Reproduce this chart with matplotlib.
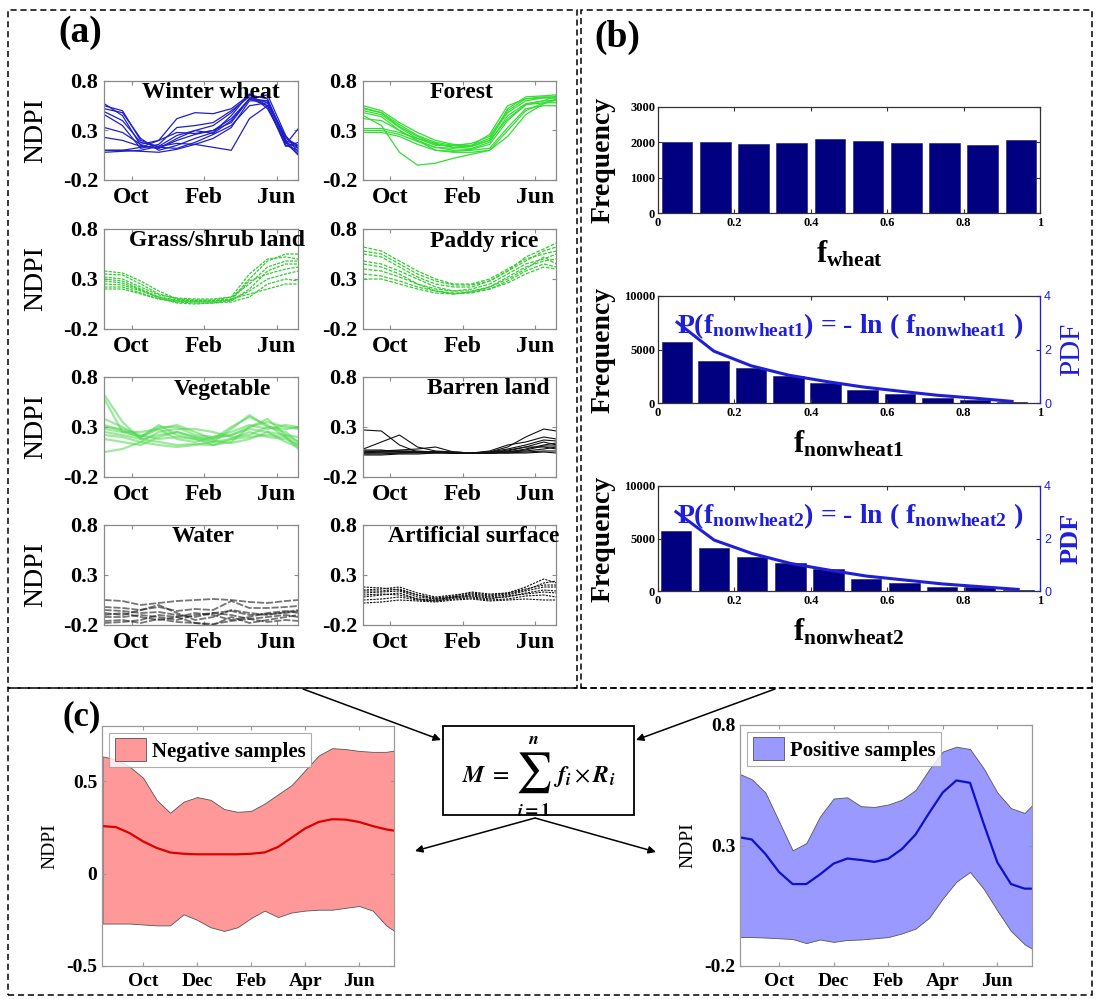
import matplotlib
matplotlib.use('Agg')
import matplotlib.pyplot as plt
from matplotlib.patches import Rectangle, FancyArrowPatch

# ---------------- DATA ----------------
A_MONTHS = [0.5, 1.5, 2.5, 3.5, 4.5, 5.5, 6.5, 7.5, 8.5, 9.5, 10.5, 11.2]
A_TICKS = [2, 6, 10]
A_TICKLABELS = ['Oct', 'Feb', 'Jun']
NDPI_TICKS_A = [-0.2, 0.3, 0.8]

WHEAT = [
    [0.57, 0.45, 0.15, 0.12, 0.22, 0.30, 0.35, 0.48, 0.66, 0.55, 0.15, 0.10],
    [0.52, 0.48, 0.22, 0.10, 0.15, 0.22, 0.28, 0.45, 0.67, 0.52, 0.18, 0.12],
    [0.49, 0.40, 0.18, 0.14, 0.25, 0.30, 0.27, 0.40, 0.62, 0.60, 0.22, 0.15],
    [0.46, 0.35, 0.12, 0.16, 0.33, 0.35, 0.38, 0.50, 0.64, 0.58, 0.20, 0.06],
    [0.33, 0.28, 0.16, 0.20, 0.42, 0.48, 0.47, 0.52, 0.66, 0.62, 0.20, 0.14],
    [0.23, 0.20, 0.14, 0.12, 0.20, 0.26, 0.30, 0.38, 0.62, 0.66, 0.25, 0.08],
    [0.10, 0.10, 0.09, 0.08, 0.11, 0.16, 0.22, 0.33, 0.60, 0.60, 0.18, 0.05],
    [0.08, 0.09, 0.10, 0.14, 0.17, 0.16, 0.13, 0.10, 0.42, 0.55, 0.16, 0.32],
    [0.10, 0.10, 0.13, 0.20, 0.28, 0.27, 0.30, 0.42, 0.62, 0.55, 0.14, 0.18],
    [0.55, 0.50, 0.20, 0.13, 0.12, 0.18, 0.26, 0.35, 0.55, 0.58, 0.24, 0.12],
]
FOREST = [
    [0.55, 0.50, 0.38, 0.28, 0.20, 0.16, 0.15, 0.22, 0.48, 0.60, 0.63, 0.63],
    [0.52, 0.48, 0.36, 0.25, 0.18, 0.15, 0.14, 0.20, 0.52, 0.64, 0.65, 0.66],
    [0.48, 0.44, 0.30, 0.20, 0.13, 0.10, 0.11, 0.16, 0.40, 0.56, 0.60, 0.60],
    [0.45, 0.35, 0.08, -0.05, -0.03, 0.02, 0.06, 0.10, 0.30, 0.50, 0.58, 0.62],
    [0.32, 0.32, 0.28, 0.22, 0.17, 0.13, 0.15, 0.26, 0.55, 0.62, 0.63, 0.63],
    [0.30, 0.30, 0.26, 0.19, 0.13, 0.12, 0.14, 0.20, 0.42, 0.56, 0.58, 0.58],
    [0.28, 0.28, 0.24, 0.16, 0.10, 0.09, 0.10, 0.12, 0.33, 0.52, 0.55, 0.55],
    [0.50, 0.46, 0.33, 0.22, 0.15, 0.15, 0.17, 0.24, 0.50, 0.62, 0.64, 0.64],
    [0.42, 0.40, 0.30, 0.20, 0.10, 0.08, 0.08, 0.10, 0.24, 0.46, 0.57, 0.61],
    [0.53, 0.48, 0.34, 0.24, 0.16, 0.13, 0.12, 0.18, 0.45, 0.57, 0.60, 0.65],
]
GRASS = [
    [0.38, 0.36, 0.28, 0.18, 0.10, 0.08, 0.08, 0.10, 0.30, 0.48, 0.55, 0.55],
    [0.35, 0.34, 0.25, 0.15, 0.10, 0.09, 0.09, 0.12, 0.35, 0.50, 0.52, 0.50],
    [0.30, 0.28, 0.20, 0.12, 0.08, 0.07, 0.07, 0.08, 0.20, 0.38, 0.45, 0.45],
    [0.25, 0.24, 0.18, 0.12, 0.09, 0.08, 0.08, 0.09, 0.18, 0.30, 0.35, 0.38],
    [0.22, 0.22, 0.16, 0.10, 0.07, 0.06, 0.06, 0.07, 0.12, 0.25, 0.30, 0.28],
    [0.32, 0.30, 0.22, 0.14, 0.11, 0.10, 0.10, 0.12, 0.25, 0.42, 0.48, 0.48],
    [0.28, 0.26, 0.19, 0.11, 0.06, 0.05, 0.06, 0.09, 0.28, 0.35, 0.40, 0.42],
    [0.20, 0.20, 0.15, 0.10, 0.08, 0.08, 0.08, 0.10, 0.15, 0.20, 0.25, 0.25],
]
PADDY = [
    [0.62, 0.58, 0.48, 0.38, 0.30, 0.25, 0.25, 0.30, 0.40, 0.50, 0.55, 0.58],
    [0.55, 0.52, 0.42, 0.32, 0.25, 0.22, 0.22, 0.28, 0.38, 0.48, 0.58, 0.62],
    [0.48, 0.45, 0.38, 0.30, 0.22, 0.18, 0.20, 0.25, 0.35, 0.45, 0.50, 0.55],
    [0.45, 0.42, 0.35, 0.25, 0.18, 0.15, 0.17, 0.22, 0.32, 0.42, 0.48, 0.50],
    [0.40, 0.38, 0.32, 0.25, 0.20, 0.18, 0.18, 0.22, 0.30, 0.40, 0.52, 0.45],
    [0.35, 0.33, 0.28, 0.22, 0.18, 0.16, 0.16, 0.20, 0.28, 0.38, 0.45, 0.42],
    [0.30, 0.30, 0.25, 0.20, 0.16, 0.15, 0.17, 0.20, 0.26, 0.35, 0.42, 0.40],
    [0.58, 0.55, 0.45, 0.35, 0.28, 0.24, 0.24, 0.28, 0.38, 0.52, 0.60, 0.66],
]
VEGETABLE = [
    [0.62, 0.35, 0.18, 0.22, 0.25, 0.20, 0.18, 0.22, 0.28, 0.25, 0.15, 0.10],
    [0.58, 0.25, 0.20, 0.28, 0.32, 0.25, 0.18, 0.30, 0.40, 0.32, 0.20, 0.12],
    [0.38, 0.30, 0.20, 0.30, 0.30, 0.22, 0.20, 0.22, 0.30, 0.35, 0.30, 0.28],
    [0.30, 0.28, 0.22, 0.18, 0.20, 0.18, 0.15, 0.28, 0.42, 0.30, 0.25, 0.15],
    [0.22, 0.20, 0.15, 0.25, 0.28, 0.28, 0.25, 0.20, 0.22, 0.30, 0.28, 0.30],
    [0.05, 0.08, 0.15, 0.12, 0.10, 0.12, 0.15, 0.18, 0.20, 0.22, 0.20, 0.08],
    [0.25, 0.22, 0.18, 0.15, 0.12, 0.13, 0.12, 0.18, 0.25, 0.20, 0.18, 0.12],
    [0.32, 0.26, 0.20, 0.32, 0.22, 0.18, 0.12, 0.15, 0.30, 0.38, 0.22, 0.15],
    [0.18, 0.15, 0.12, 0.20, 0.25, 0.20, 0.16, 0.14, 0.18, 0.25, 0.22, 0.20],
    [0.28, 0.25, 0.25, 0.28, 0.18, 0.15, 0.20, 0.25, 0.32, 0.28, 0.32, 0.30],
]
BARREN = [
    [0.27, 0.26, 0.12, 0.05, 0.05, 0.04, 0.04, 0.05, 0.10, 0.20, 0.28, 0.26],
    [0.08, 0.15, 0.22, 0.10, 0.06, 0.05, 0.04, 0.06, 0.12, 0.15, 0.20, 0.18],
    [0.05, 0.06, 0.07, 0.08, 0.10, 0.05, 0.04, 0.05, 0.06, 0.10, 0.15, 0.12],
    [0.04, 0.05, 0.05, 0.05, 0.05, 0.04, 0.04, 0.04, 0.05, 0.08, 0.12, 0.14],
    [0.03, 0.03, 0.04, 0.04, 0.04, 0.04, 0.04, 0.04, 0.05, 0.06, 0.08, 0.10],
    [0.06, 0.06, 0.06, 0.05, 0.05, 0.04, 0.04, 0.04, 0.04, 0.05, 0.06, 0.06],
    [0.02, 0.02, 0.03, 0.03, 0.04, 0.04, 0.04, 0.04, 0.04, 0.04, 0.05, 0.04],
    [0.05, 0.05, 0.06, 0.06, 0.05, 0.05, 0.04, 0.05, 0.08, 0.12, 0.17, 0.16],
    [0.07, 0.07, 0.05, 0.05, 0.05, 0.04, 0.04, 0.04, 0.07, 0.10, 0.10, 0.08],
    [0.04, 0.04, 0.04, 0.05, 0.05, 0.04, 0.04, 0.04, 0.05, 0.07, 0.11, 0.11],
]
WATER = [
    [0.05, 0.04, 0.00, 0.02, 0.04, 0.05, 0.06, 0.05, 0.03, 0.02, 0.04, 0.05],
    [-0.02, -0.03, -0.05, -0.02, -0.06, -0.04, -0.05, 0.04, -0.03, -0.03, -0.02, -0.01],
    [-0.08, -0.10, -0.05, 0.00, -0.08, -0.15, -0.12, -0.05, -0.08, -0.10, -0.07, -0.05],
    [-0.12, -0.12, -0.10, -0.12, -0.15, -0.10, -0.08, -0.10, -0.14, -0.12, -0.10, -0.12],
    [-0.16, -0.15, -0.18, -0.14, -0.17, -0.18, -0.19, -0.16, -0.14, -0.17, -0.15, -0.16],
    [-0.05, -0.06, -0.08, -0.07, -0.10, -0.12, -0.08, -0.06, -0.10, -0.09, -0.08, -0.06],
    [-0.18, -0.17, -0.15, -0.10, -0.12, -0.18, -0.20, -0.12, -0.18, -0.15, -0.12, -0.10],
    [-0.10, -0.08, -0.12, -0.15, -0.12, -0.08, -0.10, -0.15, -0.12, -0.08, -0.06, -0.08],
]
ARTIFICIAL = [
    [0.15, 0.16, 0.18, 0.12, 0.08, 0.10, 0.12, 0.10, 0.12, 0.18, 0.26, 0.22],
    [0.12, 0.13, 0.14, 0.08, 0.06, 0.08, 0.10, 0.08, 0.10, 0.14, 0.18, 0.18],
    [0.08, 0.10, 0.12, 0.06, 0.04, 0.07, 0.09, 0.07, 0.08, 0.12, 0.15, 0.14],
    [0.05, 0.06, 0.08, 0.05, 0.04, 0.06, 0.07, 0.05, 0.06, 0.09, 0.10, 0.08],
    [0.18, 0.17, 0.15, 0.10, 0.07, 0.09, 0.13, 0.11, 0.12, 0.16, 0.20, 0.20],
    [0.02, 0.03, 0.05, 0.04, 0.03, 0.05, 0.06, 0.04, 0.05, 0.06, 0.05, 0.05],
    [0.10, 0.11, 0.10, 0.06, 0.05, 0.08, 0.08, 0.06, 0.09, 0.11, 0.13, 0.12],
    [0.14, 0.14, 0.16, 0.10, 0.06, 0.08, 0.11, 0.09, 0.11, 0.15, 0.22, 0.24],
]
CLASS_NAMES = ['Winter wheat', 'Forest', 'Grass/shrub land', 'Paddy rice',
               'Vegetable', 'Barren land', 'Water', 'Artificial surface']

# panel (b)
F_TICKS = [0, 0.2, 0.4, 0.6, 0.8, 1]
F_TICKLABELS = ['0', '0.2', '0.4', '0.6', '0.8', '1']
WHEAT_BINS = [0.05, 0.15, 0.25, 0.35, 0.45, 0.55, 0.65, 0.75, 0.85, 0.95]
WHEAT_FREQ = [2015, 1997, 1940, 1978, 2090, 2025, 1978, 1978, 1920, 2080]
NW1_BINS = [0.050, 0.146, 0.244, 0.342, 0.438, 0.536, 0.634, 0.731, 0.830, 0.927]
NW1_FREQ = [5690, 3940, 3280, 2560, 1910, 1250, 875, 470, 310, 94]
NW1_PDF = [3.02, 1.94, 1.39, 1.04, 0.81, 0.60, 0.44, 0.29, 0.18, 0.06]
NW2_BINS = [0.047, 0.147, 0.246, 0.347, 0.446, 0.545, 0.645, 0.744, 0.843, 0.943]
NW2_FREQ = [5746, 4127, 3270, 2700, 2063, 1175, 794, 413, 350, 95]
NW2_PDF = [3.02, 1.94, 1.43, 1.05, 0.80, 0.57, 0.42, 0.27, 0.165, 0.06]

# panel (c)
C_MONTHS = [0.5, 1.0, 1.5, 2.0, 2.5, 3.0, 3.5, 4.0, 4.5, 5.0, 5.5, 6.0,
            6.5, 7.0, 7.5, 8.0, 8.5, 9.0, 9.5, 10.0, 10.5, 11.0, 11.3]
C_TICKS = [2, 4, 6, 8, 10]
C_TICKLABELS = ['Oct', 'Dec', 'Feb', 'Apr', 'Jun']
NEG_UPPER = [0.635, 0.62, 0.58, 0.52, 0.40, 0.33, 0.39, 0.415, 0.40, 0.35, 0.335, 0.34,
             0.38, 0.43, 0.48, 0.56, 0.64, 0.68, 0.675, 0.665, 0.66, 0.66, 0.667]
NEG_LOWER = [-0.27, -0.27, -0.27, -0.275, -0.28, -0.28, -0.22, -0.25, -0.29, -0.31, -0.29, -0.24,
             -0.20, -0.235, -0.21, -0.20, -0.195, -0.195, -0.185, -0.175, -0.20, -0.28, -0.31]
NEG_MEAN = [0.258, 0.252, 0.22, 0.175, 0.14, 0.115, 0.108, 0.105, 0.105, 0.105, 0.105, 0.108,
            0.115, 0.145, 0.195, 0.245, 0.28, 0.295, 0.293, 0.28, 0.258, 0.24, 0.233]
POS_UPPER = [0.60, 0.575, 0.52, 0.40, 0.28, 0.31, 0.42, 0.495, 0.50, 0.463, 0.46, 0.47,
             0.49, 0.53, 0.615, 0.69, 0.71, 0.70, 0.62, 0.52, 0.455, 0.435, 0.47]
POS_LOWER = [-0.08, -0.08, -0.082, -0.085, -0.088, -0.105, -0.09, -0.10, -0.092, -0.09, -0.085, -0.08,
             -0.065, -0.045, 0.0, 0.08, 0.15, 0.19, 0.12, 0.03, -0.055, -0.11, -0.13]
POS_MEAN = [0.335, 0.325, 0.265, 0.19, 0.14, 0.14, 0.18, 0.225, 0.246, 0.24, 0.232, 0.245,
            0.285, 0.345, 0.435, 0.52, 0.57, 0.56, 0.39, 0.23, 0.14, 0.121, 0.121]

# ---------------- FIGURE ----------------
W, H = 1097, 999
plt.rcParams['font.family'] = ['Liberation Serif', 'DejaVu Serif']
plt.rcParams['mathtext.fontset'] = 'custom'
plt.rcParams['mathtext.rm'] = 'Liberation Serif'
plt.rcParams['mathtext.bf'] = 'Liberation Serif:bold'
plt.rcParams['mathtext.it'] = 'Liberation Serif:italic'

fig = plt.figure(figsize=(W / 100, H / 100), dpi=100)


def fx(x):
    return x / W


def fy(y):
    return 1 - y / H


def ax_px(l, t, r, b):
    return fig.add_axes([l / W, 1 - b / H, (r - l) / W, (b - t) / H])


GRAY = '#8a8a8a'


def style_box(ax, color=GRAY):
    for s in ax.spines.values():
        s.set_color(color)
        s.set_linewidth(0.9)
    ax.tick_params(direction='in', top=True, right=True, color=color, length=3)


# ---------- panel (a) ----------
a_boxes = [(104, 81, 298, 180), (363, 81, 556, 180),
           (104, 229, 298, 329), (363, 229, 556, 329),
           (104, 377, 298, 477), (363, 377, 556, 477),
           (104, 525, 298, 625), (363, 525, 556, 625)]
a_title_x = [0.55, 0.51, 0.58, 0.63, 0.61, 0.65, 0.51, 0.575]
a_data = [WHEAT, FOREST, GRASS, PADDY, VEGETABLE, BARREN, WATER, ARTIFICIAL]
a_styles = [
    dict(color='#1f1fc8', lw=0.9, ls='-', alpha=1.0),
    dict(color='#33dd33', lw=0.9, ls='-', alpha=1.0),
    dict(color='#33cc33', lw=0.9, ls=(0, (2.5, 1)), alpha=1.0),
    dict(color='#33cc33', lw=0.9, ls=(0, (3, 1.2)), alpha=1.0),
    dict(color='#4fd84f', lw=1.6, ls='-', alpha=0.55),
    dict(color='#111111', lw=0.8, ls='-', alpha=1.0),
    dict(color='#1a1a1a', lw=1.3, ls=(0, (4, 1)), alpha=0.6),
    dict(color='#111111', lw=0.8, ls=(0, (2, 1)), alpha=1.0),
]
for i, (box, curves, st) in enumerate(zip(a_boxes, a_data, a_styles)):
    ax = ax_px(*box)
    for c in curves:
        ax.plot(A_MONTHS, c, color=st['color'], lw=st['lw'], ls=st['ls'], alpha=st['alpha'])
    ax.set_xlim(0.48, 11.18)
    ax.set_ylim(-0.2, 0.8)
    ax.set_xticks(A_TICKS)
    ax.set_xticklabels(A_TICKLABELS, fontsize=17, fontweight='bold')
    ax.set_yticks(NDPI_TICKS_A)
    ax.set_yticklabels(['-0.2', '0.3', '0.8'], fontsize=16, fontweight='bold')
    style_box(ax)
    ax.tick_params(axis='x', pad=5)
    ax.tick_params(axis='y', pad=4)
    ax.text(a_title_x[i], 0.88, CLASS_NAMES[i], transform=ax.transAxes, ha='center', va='center',
            fontsize=17, fontweight='bold', clip_on=False, zorder=5)
    if i % 2 == 0:
        ax.set_ylabel('NDPI', fontsize=20)
        ax.yaxis.set_label_coords(-0.29, 0.5)

fig.text(fx(80), fy(33), '(a)', fontsize=27, fontweight='bold', ha='center', va='center')
fig.text(fx(617), fy(37), '(b)', fontsize=27, fontweight='bold', ha='center', va='center')
fig.text(fx(82), fy(717), '(c)', fontsize=25, fontweight='bold', ha='center', va='center')

# ---------- panel (b) ----------
BAR_COLOR = '#000080'
PDF_COLOR = '#1f1fd8'


def hist_axis(box, bins, freq, width, ymax, yticks, xlabel_sub):
    ax = ax_px(*box)
    ax.bar(bins, freq, width=width, color=BAR_COLOR, edgecolor='#1a1a5a', linewidth=0.4)
    ax.set_xlim(0, 1)
    ax.set_ylim(0, ymax)
    ax.set_xticks(F_TICKS)
    ax.set_xticklabels(F_TICKLABELS, fontsize=9, fontweight='bold')
    ax.set_yticks(yticks)
    ax.set_yticklabels([str(v) for v in yticks], fontsize=9, fontweight='bold')
    style_box(ax, '#333333')
    ax.tick_params(axis='x', pad=3)
    ax.tick_params(axis='y', pad=2)
    ax.set_ylabel('Frequency', fontsize=20, fontweight='bold')
    ax.yaxis.set_label_coords(-0.112, 0.5)
    ax.text(0.5, -0.245, 'f$_{\\mathbf{' + xlabel_sub + '}}$', transform=ax.transAxes,
            ha='center', va='top', fontsize=22, fontweight='bold')
    return ax


hist_axis((658, 107, 1040, 213), WHEAT_BINS, WHEAT_FREQ, 0.08, 3000, [0, 1000, 2000, 3000], 'wheat')

for box, bins, freq, pdf, sub, pdfw, pdfs in [
        ((658, 296, 1040, 403), NW1_BINS, NW1_FREQ, NW1_PDF, 'nonwheat1', 'normal', 21),
        ((658, 486, 1040, 591), NW2_BINS, NW2_FREQ, NW2_PDF, 'nonwheat2', 'bold', 19)]:
    ax = hist_axis(box, bins, freq, 0.08, 10000, [0, 5000, 10000], sub)
    ax.tick_params(right=False)
    ax2 = ax.twinx()
    ax2.plot(bins, pdf, color=PDF_COLOR, lw=2.2)
    ax2.set_ylim(0, 4)
    ax2.set_yticks([0, 2, 4])
    ax2.set_yticklabels(['0', '2', '4'], fontsize=9, family='Liberation Sans', color=PDF_COLOR)
    ax2.tick_params(direction='in', color=PDF_COLOR, length=3, pad=3)
    for s in ax2.spines.values():
        s.set_visible(False)
    ax2.spines['right'].set_visible(True)
    ax2.spines['right'].set_color(PDF_COLOR)
    ax2.set_ylabel('PDF', fontsize=pdfs, fontweight=pdfw, color=PDF_COLOR)
    ax2.yaxis.set_label_coords(1.05, 0.5)
    formula = ('P(f$_{\\mathbf{' + sub + '}}$) = - ln ( f$_{\\mathbf{' + sub + '}}$ )')
    ax.text(0.05, 6500, formula, color=PDF_COLOR, fontsize=20, fontweight='bold',
            ha='left', va='baseline', zorder=6)

# ---------- panel (c) ----------
def band_axis(box, xlim, ylim, yticks, yticklabels, upper, lower, mean, fill, line, label):
    ax = ax_px(*box)
    ax.fill_between(C_MONTHS, lower, upper, facecolor=fill, edgecolor='#555555', linewidth=0.6,
                    label=label)
    ax.plot(C_MONTHS, mean, color=line, lw=1.6)
    ax.set_xlim(*xlim)
    ax.set_ylim(*ylim)
    ax.set_xticks(C_TICKS)
    ax.set_xticklabels(C_TICKLABELS, fontsize=14, fontweight='bold')
    ax.set_yticks(yticks)
    ax.set_yticklabels(yticklabels, fontsize=14, fontweight='bold')
    style_box(ax, '#9a9a9a')
    ax.tick_params(axis='x', pad=5)
    ax.set_ylabel('NDPI', fontsize=14)
    ax.yaxis.set_label_coords(-0.15, 0.5)
    leg = ax.legend(loc='upper left', prop={'weight': 'bold', 'size': 15},
                    frameon=True, fancybox=False, borderaxespad=0.35, handlelength=1.5,
                    handleheight=1.3, handletextpad=0.3, borderpad=0.25)
    leg.get_frame().set_edgecolor('#999999')
    leg.get_frame().set_linewidth(0.8)
    return ax


band_axis((102, 726, 394, 966), (0.48, 11.29), (-0.5, 0.8), [-0.5, 0, 0.5], ['-0.5', '0', '0.5'],
          NEG_UPPER, NEG_LOWER, NEG_MEAN, '#ff9999', '#dd0000', 'Negative samples')
band_axis((740, 725, 1032, 966), (0.57, 11.27), (-0.2, 0.8), [-0.2, 0.3, 0.8], ['-0.2', '0.3', '0.8'],
          POS_UPPER, POS_LOWER, POS_MEAN, '#9999ff', '#1010c8', 'Positive samples')

# ---------- frames, formula box, arrows ----------
def frame(l, t, r, b):
    fig.add_artist(Rectangle((fx(l), fy(b)), (r - l) / W, (b - t) / H, transform=fig.transFigure,
                             fill=False, edgecolor='black', linewidth=1.1, linestyle=(0, (4, 2.5))))


frame(8, 10, 577, 688)
frame(581, 10, 1092, 688)
frame(8, 688, 1092, 995)

fig.add_artist(Rectangle((fx(443), fy(815)), (634 - 443) / W, (815 - 726) / H, transform=fig.transFigure,
                         fill=False, edgecolor='black', linewidth=1.3))

fig.text(fx(462), fy(782), r'$\mathbfit{M}\ =$', fontsize=17, math_fontfamily='stix',
         ha='left', va='baseline')
fig.text(fx(533), fy(773), r'$\sum$', fontsize=29, math_fontfamily='stix', ha='center', va='center')
fig.text(fx(533), fy(740), r'$\mathbfit{n}$', fontsize=13, math_fontfamily='stix', ha='center', va='center')
fig.text(fx(534), fy(811), r'$\mathbfit{i}\mathbf{=1}$', fontsize=13, math_fontfamily='stix',
         ha='center', va='center')
fig.text(fx(553), fy(782), r'$\mathbfit{f}_{\mathbfit{i}}\times\mathbfit{R}_{\mathbfit{i}}$', fontsize=17,
         math_fontfamily='stix', ha='left', va='baseline')


def arrow(x0, y0, x1, y1):
    fig.add_artist(FancyArrowPatch((fx(x0), fy(y0)), (fx(x1), fy(y1)), transform=fig.transFigure,
                                   arrowstyle='-|>', mutation_scale=11, color='black', lw=1.1,
                                   shrinkA=0, shrinkB=0))


arrow(303, 689, 441, 740)
arrow(775, 689, 636, 740)
arrow(535, 818, 415, 851)
arrow(535, 818, 656, 852)

fig.savefig('out.png', dpi=100)
